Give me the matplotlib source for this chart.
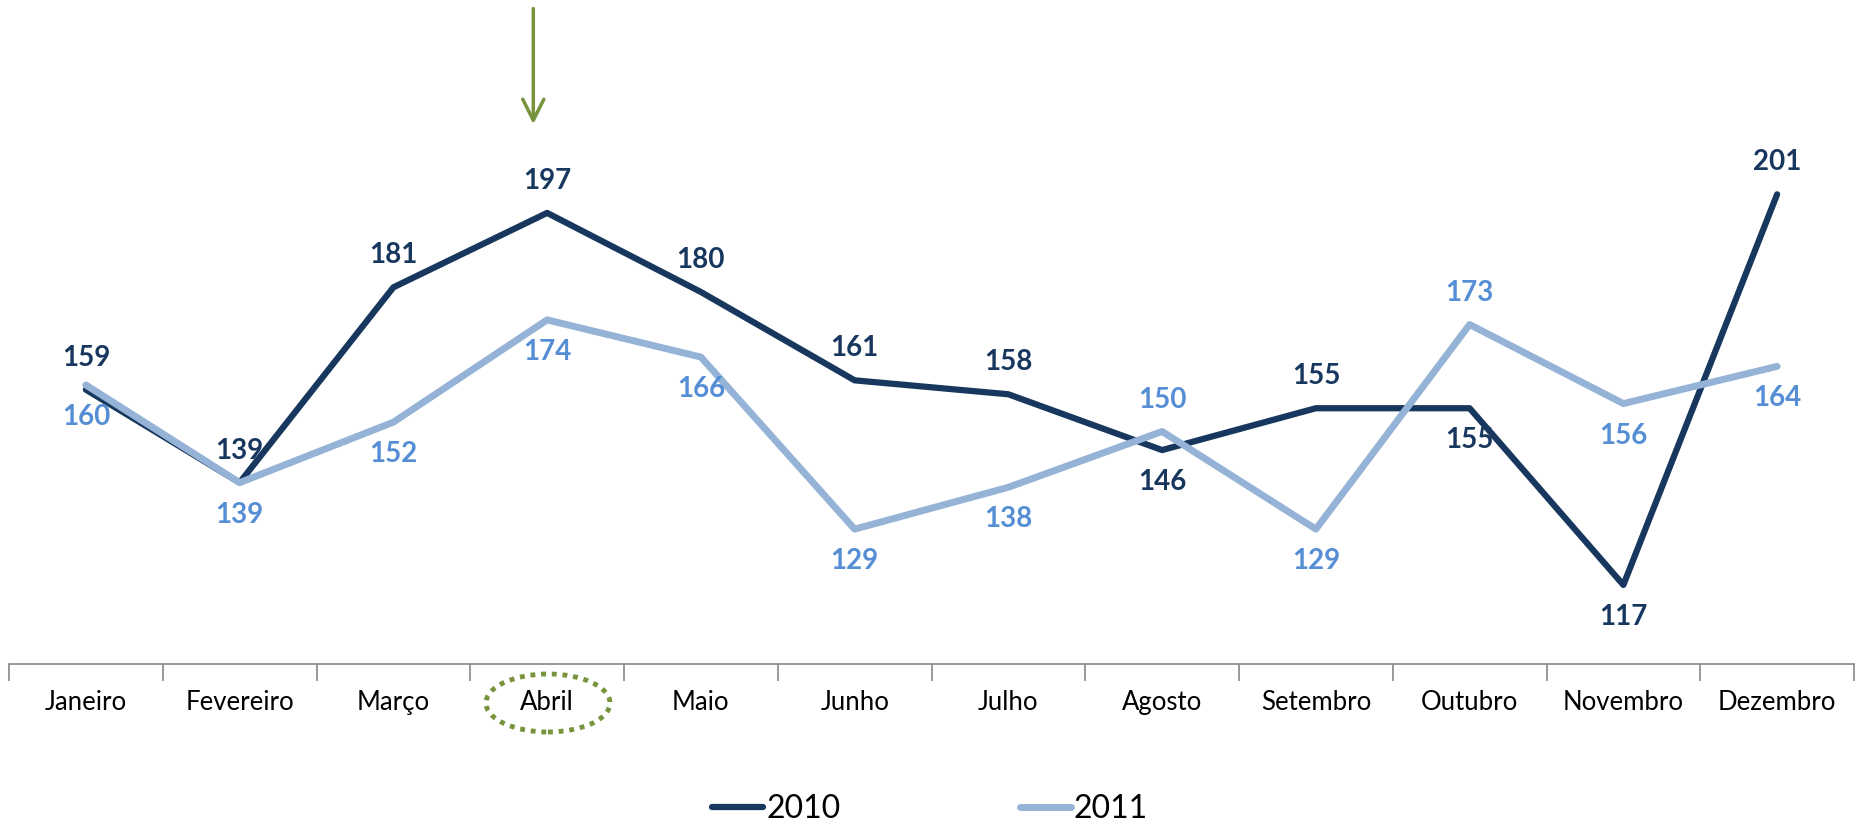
import matplotlib.pyplot as plt
from matplotlib.patches import Ellipse

meses = ["Janeiro", "Fevereiro", "Março", "Abril", "Maio", "Junho", "Julho",
         "Agosto", "Setembro", "Outubro", "Novembro", "Dezembro"]
v2010 = [159, 139, 181, 197, 180, 161, 158, 146, 155, 155, 117, 201]
v2011 = [160, 139, 152, 174, 166, 129, 138, 150, 129, 173, 156, 164]
# label above (1) or below (-1) the point
pos2010 = [1, 1, 1, 1, 1, 1, 1, -1, 1, -1, -1, 1]
pos2011 = [-1, -1, -1, -1, -1, -1, -1, 1, -1, 1, -1, -1]

c2010 = "#17375E"
c2011 = "#95B3D7"
clab2011 = "#558ED5"
verde = "#77933C"

plt.rcParams['font.family'] = ['Lato', 'DejaVu Sans']

fig = plt.figure(figsize=(18.6, 8.3), dpi=100)
ax = fig.add_axes([9 / 1860, 0.2, 1845 / 1860, 0.79])

x = list(range(len(meses)))
ax.plot(x, v2010, color=c2010, lw=4.5, solid_capstyle="round", label="2010", zorder=2)
ax.plot(x, v2011, color=c2011, lw=5, solid_capstyle="round", label="2011", zorder=3)

for xi, v, p in zip(x, v2010, pos2010):
    ax.annotate(str(v), (xi, v), xytext=(0, 23 * p), textcoords="offset points",
                ha="center", va="center", fontsize=20, fontweight="bold", color=c2010)
for xi, v, p in zip(x, v2011, pos2011):
    ax.annotate(str(v), (xi, v), xytext=(0, 23 * p), textcoords="offset points",
                ha="center", va="center", fontsize=20, fontweight="bold", color=clab2011)

ax.set_xlim(-0.5, 11.5)
ax.set_ylim(100, 241)
ax.set_yticks([])
ax.set_xticks(x)
ax.set_xticklabels(meses, fontsize=18.5)
ax.tick_params(axis="x", which="major", length=0, pad=19)
ax.set_xticks([i - 0.5 for i in range(13)], minor=True)
ax.tick_params(axis="x", which="minor", length=12, color="#878787", width=1.2)
for s in ["top", "right", "left"]:
    ax.spines[s].set_visible(False)
ax.spines["bottom"].set_color("#878787")
ax.spines["bottom"].set_linewidth(1.2)

# arrow pointing to Abril
ax.annotate("", xy=(3 - 0.09, 0.847), xytext=(3 - 0.09, 0.993),
            xycoords=("data", "figure fraction"), textcoords=("data", "figure fraction"),
            arrowprops=dict(arrowstyle="->", color=verde, lw=2.5, mutation_scale=38))

# dotted ellipse around the Abril label
ell = Ellipse((548 / 1860, 1 - 703 / 830), 124 / 1860, 58 / 830, transform=fig.transFigure,
              fill=False, edgecolor=verde, lw=3.5, linestyle=(0, (1, 1.2)))
fig.patches.append(ell)

leg = fig.legend(loc="lower center", bbox_to_anchor=(0.5, -0.028), ncol=2, frameon=False,
                 fontsize=23, handlelength=1.6, handletextpad=0.1, columnspacing=5.6)

fig.savefig("out.png", dpi=100)
